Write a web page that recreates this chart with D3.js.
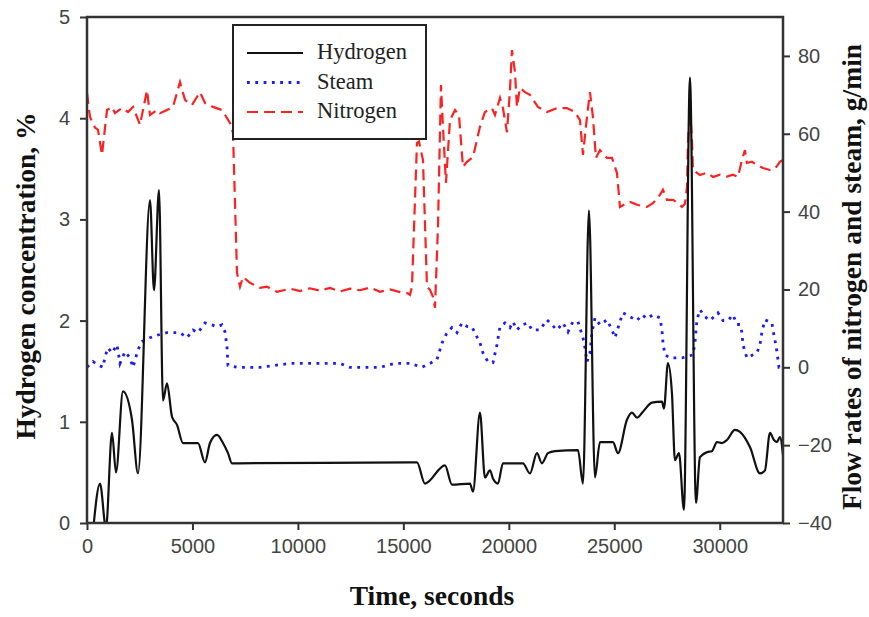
<!DOCTYPE html>
<html>
<head>
<meta charset="utf-8">
<script src="https://cdn.jsdelivr.net/npm/d3@7"></script>
<style>
  html, body { margin: 0; padding: 0; background: #fff; }
  svg { display: block; }
</style>
</head>
<body>
<svg id="chart" width="869" height="617"></svg>
<script>
// Hydrogen concentration (%) over time (s)
const hydrogenTime = [300, 616, 900, 1185, 1375, 1707, 2133, 2418, 2987, 3176, 3414, 3603, 3793, 4030, 4267, 4551, 5262, 5594, 5831, 6163, 6448, 6685, 6874,
  15645, 16025, 16972, 17305, 18158, 18300, 18632, 18869, 19106, 19248, 19485, 19722, 20670, 21002, 21334, 21571, 21856, 22188, 23278, 23516, 23800,
  24084, 24322, 24938, 25175, 25601, 25838, 26076, 26360, 26787, 27261, 27356, 27545, 27735, 27877, 28067, 28304, 28588, 28873, 29062, 29394, 29631,
  29868, 30106, 30343, 30722, 30959, 31433, 31907, 32144, 32381, 32570, 32713, 32855, 33000];
const hydrogenPct = [-0.05, 0.39, -0.05, 0.89, 0.50, 1.30, 1.02, 0.49, 3.19, 2.30, 3.29, 1.21, 1.38, 1.05, 0.97, 0.79, 0.79, 0.60, 0.79, 0.87, 0.79, 0.69, 0.59,
  0.60, 0.39, 0.57, 0.38, 0.39, 0.31, 1.09, 0.45, 0.52, 0.44, 0.39, 0.59, 0.59, 0.49, 0.69, 0.59, 0.69, 0.71, 0.72, 0.39, 3.09,
  0.45, 0.80, 0.80, 0.69, 1.02, 1.09, 1.04, 1.10, 1.19, 1.20, 1.13, 1.58, 1.28, 0.62, 0.69, 0.13, 4.40, 0.20, 0.65, 0.70, 0.71,
  0.80, 0.79, 0.82, 0.92, 0.90, 0.75, 0.49, 0.52, 0.89, 0.82, 0.80, 0.85, 0.67];

// Steam flow rate (g/min)
const steamTime = [0, 284, 522, 759, 853, 996, 1185, 1422, 1565, 1802, 2039, 2181, 2418, 2608, 2987, 3366, 3793, 4409, 4741, 5026, 5262, 5594, 5926, 6163,
  6400, 6543, 6637, 6685, 7112, 8202, 9624, 11995, 12469, 13891, 14602, 15313, 15882, 16262, 16594, 16830, 17068, 17305, 17542, 17779, 18016, 18253,
  18490, 18632, 18774, 19011, 19248, 19438, 19580, 19817, 20054, 20197, 20386, 20623, 20907, 21097, 21476, 21808, 22282, 22567, 22804, 23041, 23278,
  23516, 23610, 23705, 23847, 23942, 24084, 24322, 24654, 24891, 25033, 25270, 25412, 25744, 26076, 26313, 26550, 26834, 27166, 27261, 27308, 27403,
  27640, 28209, 28731, 28825, 28920, 29062, 29299, 29537, 29916, 30153, 30390, 30627, 30817, 30959, 31054, 31101, 31290, 31575, 31765, 31907, 32002,
  32144, 32476, 32523, 32618, 32713, 32808, 33000];
const steamFlow = [0, 1.5, 0.6, 0, 2.7, 5.0, 3.7, 5.8, 1.0, 4.0, 2.4, 0, 4.5, 6.6, 7.6, 8.3, 8.9, 8.9, 7.6, 9.6, 8.9, 11.4, 10.9, 10.4,
  10.9, 9.1, 5.3, 0.5, 0, 0, 1, 1, 0, 0, 1, 1, 0, 1, 2, 6.2, 8.9, 10.2, 8.9, 11.4, 10.5, 10.4,
  7.8, 6.3, 3.7, 1.4, 1.2, 5.8, 10.4, 11.4, 10.2, 11.7, 9.6, 10.9, 11.4, 9.6, 9.6, 12.2, 9.6, 11.4, 9.1, 11.7, 11.7,
  7.6, 5.0, 1.4, 3.7, 8.9, 12.7, 10.9, 12.2, 9.6, 7.6, 11.7, 14.0, 13.0, 12.0, 13.5, 12.5, 13.5, 12.7, 9.6, 6.3, 3.2,
  2.4, 2.4, 3.2, 6.3, 12.2, 14.8, 13.0, 12.0, 14.0, 12.0, 12.0, 13.5, 11.0, 11.0, 8.9, 5.8, 2.4, 3.2, 3.7, 5.8, 9.1,
  12.2, 11.4, 9.6, 7.0, 4.0, 0, 0];

// Nitrogen flow rate (g/min)
const nitrogenTime = [0, 142, 379, 522, 711, 948, 1185, 1327, 1659, 1944, 2181, 2513, 2845, 2987, 3319, 3461, 3793, 4077, 4409, 4646, 4978, 5357, 5594,
  5974, 6400, 6780, 6922, 7112, 7254, 7396, 7728, 8202, 8534, 9008, 9624, 10098, 10572, 11046, 11521, 11995, 12469, 12943, 13417, 13891, 14365, 14839,
  15218, 15313, 15408, 15645, 15740, 15930, 16120, 16262, 16404, 16499, 16641, 16783, 16878, 17020, 17210, 17447, 17637, 17826, 18016, 18300, 18632,
  18869, 19201, 19343, 19580, 19722, 19912, 20054, 20149, 20291, 20386, 20528, 20765, 21002, 21381, 21808, 22282, 22756, 23136, 23373, 23516, 23705,
  23847, 23989, 24131, 24322, 24654, 24891, 25128, 25270, 25601, 25744, 26123, 26550, 26834, 27071, 27308, 27498, 27782, 28019, 28209, 28351, 28446,
  28493, 28588, 28683, 28731, 29062, 29394, 29679, 30011, 30343, 30627, 30864, 31054, 31196, 31290, 31528, 31765, 32049, 32381, 32618, 32855, 33000];
const nitrogenFlow = [70.5, 64.3, 61.6, 61.0, 54.6, 66.1, 66.9, 65.3, 66.6, 65.6, 66.9, 62.3, 71.2, 64.8, 66.1, 65.3, 66.1, 66.9, 73.3, 68.7, 67.4, 70.7, 67.9,
  66.9, 66.1, 62.8, 60.2, 24.3, 20.7, 23.2, 21.7, 20.4, 20.7, 19.4, 20.2, 19.6, 20.3, 19.7, 20.4, 19.5, 20.2, 19.8, 20.5, 19.4, 20.0, 19.3,
  19.0, 18.6, 20.7, 57.6, 58.0, 53.3, 20.7, 19.9, 18.1, 15.3, 36.1, 72.5, 61.8, 47.4, 63.5, 66.1, 64.8, 51.5, 52.8, 54.0, 61.8,
  65.6, 66.6, 64.8, 69.2, 66.6, 60.4, 71.2, 81.5, 75.9, 66.9, 71.8, 70.7, 70.0, 66.9, 65.6, 66.6, 66.6, 65.6, 63.5, 54.6, 64.3,
  70.7, 64.3, 53.8, 55.8, 53.8, 53.8, 49.9, 41.2, 42.2, 42.5, 41.7, 41.2, 42.2, 43.5, 45.6, 43.0, 43.0, 42.2, 41.2, 42.0, 46.3,
  57.6, 66.9, 58.4, 50.7, 49.4, 50.0, 48.9, 49.5, 49.0, 49.5, 48.9, 53.3, 55.8, 52.5, 52.8, 52.0, 51.2, 50.7, 51.0, 52.8, 53.3];

// Axis ticks
const timeTicks = [0, 5000, 10000, 15000, 20000, 25000, 30000];
const hydrogenTicks = [0, 1, 2, 3, 4, 5];
const flowTicks = [-40, -20, 0, 20, 40, 60, 80];

const legendItems = ["Hydrogen", "Steam", "Nitrogen"];

const svg = d3.select("#chart");
const W = 869, H = 617;
const m = { left: 87, right: 783, top: 17, bottom: 523 };

svg.append("rect").attr("width", W).attr("height", H).attr("fill", "#fff");

const x = d3.scaleLinear().domain([0, 33000]).range([m.left, m.right]);
const yH = d3.scaleLinear().domain([0, 5]).range([m.bottom, m.top]);
const yF = d3.scaleLinear().domain([-40, 90]).range([m.bottom, m.top]);

svg.append("clipPath").attr("id", "plotclip")
  .append("rect").attr("x", m.left).attr("y", m.top)
  .attr("width", m.right - m.left).attr("height", m.bottom - m.top);

const plot = svg.append("g").attr("clip-path", "url(#plotclip)");

const hydrogen = hydrogenTime.map((t, i) => [t, hydrogenPct[i]]);
const steam = steamTime.map((t, i) => [t, steamFlow[i]]);
const nitrogen = nitrogenTime.map((t, i) => [t, nitrogenFlow[i]]);

const lineH = d3.line().x(d => x(d[0])).y(d => yH(d[1])).curve(d3.curveMonotoneX);
const lineF = d3.line().x(d => x(d[0])).y(d => yF(d[1]));

plot.append("path").datum(nitrogen).attr("d", lineF)
  .attr("fill", "none").attr("stroke", "#ff2020").attr("stroke-width", 2.2)
  .attr("stroke-dasharray", "11,6");

plot.append("path").datum(steam).attr("d", lineF)
  .attr("fill", "none").attr("stroke", "#1a1aff").attr("stroke-width", 2.8)
  .attr("stroke-dasharray", "2.8,5.5");

plot.append("path").datum(hydrogen).attr("d", lineH)
  .attr("fill", "none").attr("stroke", "#111").attr("stroke-width", 2.2)
  .attr("stroke-linejoin", "round");

// Axes
const tickFont = "'Liberation Sans', Arial, sans-serif";
const styleAxis = g => {
  g.select(".domain").remove();
  g.selectAll(".tick line").attr("stroke", "#333").attr("stroke-width", 2);
  g.selectAll(".tick text").attr("fill", "#444")
    .style("font-family", tickFont).style("font-size", "20px");
};

svg.append("g").attr("transform", `translate(0,${m.bottom})`)
  .call(d3.axisBottom(x).tickValues(timeTicks).tickFormat(d3.format("d")).tickSize(7).tickPadding(9))
  .call(styleAxis);

svg.append("g").attr("transform", `translate(${m.left},0)`)
  .call(d3.axisLeft(yH).tickValues(hydrogenTicks).tickFormat(d3.format("d")).tickSize(7).tickPadding(10))
  .call(styleAxis);

svg.append("g").attr("transform", `translate(${m.right},0)`)
  .call(d3.axisRight(yF).tickValues(flowTicks).tickFormat(d3.format("d")).tickSize(7).tickPadding(8))
  .call(styleAxis);

// Frame
svg.append("rect").attr("x", m.left).attr("y", m.top)
  .attr("width", m.right - m.left).attr("height", m.bottom - m.top)
  .attr("fill", "none").attr("stroke", "#333").attr("stroke-width", 2.5);

// Axis titles
const titleFont = "'Liberation Serif', 'Times New Roman', serif";
svg.append("text").attr("x", 432).attr("y", 605).attr("text-anchor", "middle")
  .style("font-family", titleFont).style("font-weight", "bold").style("font-size", "27.5px")
  .attr("fill", "#111").text("Time, seconds");

svg.append("text").attr("transform", `translate(35,${(m.top + m.bottom) / 2 + 6}) rotate(-90)`)
  .attr("text-anchor", "middle")
  .style("font-family", titleFont).style("font-weight", "bold").style("font-size", "27.5px")
  .attr("fill", "#111").text("Hydrogen concentration, %");

svg.append("text").attr("transform", `translate(861,${(m.top + m.bottom) / 2 + 7}) rotate(-90)`)
  .attr("text-anchor", "middle")
  .style("font-family", titleFont).style("font-weight", "bold").style("font-size", "27.5px")
  .attr("fill", "#111").text("Flow rates of nitrogen and steam, g/min");

// Legend
const lg = svg.append("g");
lg.append("rect").attr("x", 233).attr("y", 25).attr("width", 193).attr("height", 114)
  .attr("fill", "#fff").attr("stroke", "#222").attr("stroke-width", 2);
const legendStyles = [
  { stroke: "#111", width: 2.2, dash: null },
  { stroke: "#1a1aff", width: 2.8, dash: "2.8,5.5" },
  { stroke: "#ff2020", width: 2.2, dash: "11,6" }
];
legendItems.forEach((name, i) => {
  const yy = 53 + i * 29.5;
  const s = legendStyles[i];
  const ln = lg.append("line").attr("x1", 247).attr("x2", 303).attr("y1", yy).attr("y2", yy)
    .attr("stroke", s.stroke).attr("stroke-width", s.width);
  if (s.dash) ln.attr("stroke-dasharray", s.dash);
  lg.append("text").attr("x", 317).attr("y", yy + 6)
    .style("font-family", titleFont).style("font-size", "22.5px").attr("fill", "#222").text(name);
});
</script>
</body>
</html>
